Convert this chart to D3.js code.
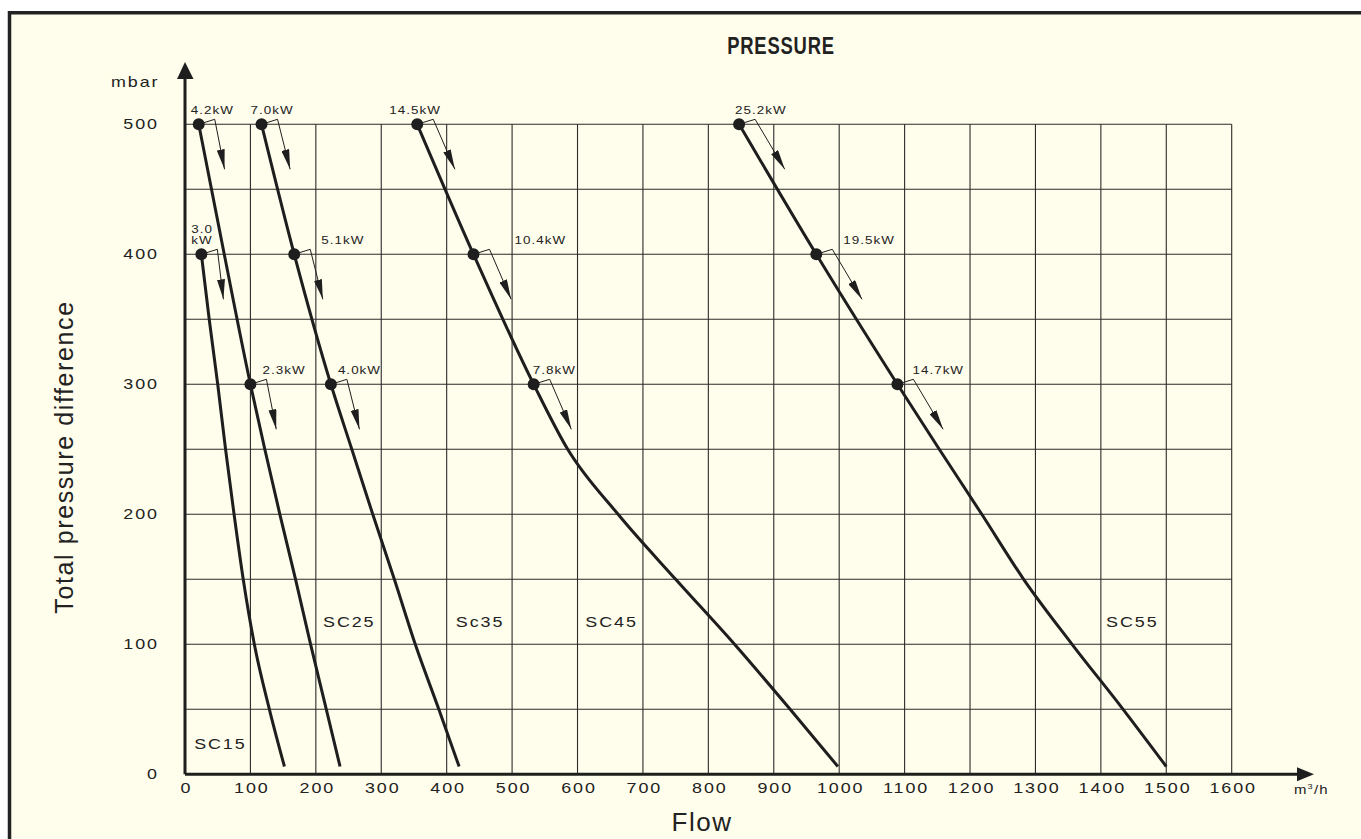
<!DOCTYPE html>
<html>
<head>
<meta charset="utf-8">
<script src="https://cdn.jsdelivr.net/npm/d3@7/dist/d3.min.js"></script>
<style>
  body { margin: 0; background: #fff; }
  svg text { font-family: "Liberation Sans", Arial, sans-serif; fill: #222; }
</style>
</head>
<body>
<script>
// blower curves: flow (m3/h) against total pressure difference (mbar)
const models = ["SC15", "SC25", "Sc35", "SC45", "SC55"];

const sc15Flow = [25, 37, 50, 62, 75, 89, 106, 129, 152];
const sc15Pres = [400, 350, 300, 250, 200, 150, 100, 50, 6];
const sc25Flow = [21, 60, 100, 122, 145, 169, 192, 216, 237];
const sc25Pres = [500, 400, 300, 250, 200, 150, 100, 50, 6];
const sc35Flow = [117, 167, 223, 255, 287, 320, 352, 388, 419];
const sc35Pres = [500, 400, 300, 250, 200, 150, 100, 50, 6];
const sc45Flow = [355, 441, 533, 585, 662, 750, 840, 925, 998];
const sc45Pres = [500, 400, 300, 250, 200, 150, 100, 50, 6];
const sc55Flow = [847, 965, 1089, 1153, 1218, 1282, 1356, 1434, 1500];
const sc55Pres = [500, 400, 300, 250, 200, 150, 100, 50, 6];

// motor power marks on each curve
const kwPres = [[400], [500, 300], [500, 400, 300], [500, 400, 300], [500, 400, 300]];
const kwText = [["3.0\nkW"], ["4.2kW", "2.3kW"], ["7.0kW", "5.1kW", "4.0kW"],
                ["14.5kW", "10.4kW", "7.8kW"], ["25.2kW", "19.5kW", "14.7kW"]];

// where the model names sit (in chart units)
const nameFlow = [14, 211, 414, 612, 1408];
const namePres = [19.5, 113.5, 113.5, 113.5, 113.5];

const xTicks = d3.range(0, 1601, 100);
const yTicks = d3.range(0, 501, 100);

// layout only: horizontal nudge of each kW tag from its dot
const tagNudge = [[-10], [-8, 12], [-11, 27, 7], [-28, 41, -1], [-4, 27, 15]];

const curves = [
  {flow: sc15Flow, pres: sc15Pres},
  {flow: sc25Flow, pres: sc25Pres},
  {flow: sc35Flow, pres: sc35Pres},
  {flow: sc45Flow, pres: sc45Pres},
  {flow: sc55Flow, pres: sc55Pres}
];

const width = 1361, height = 839;
const ink = "#1e1e1e";
const stretch = 1.28;   // the print uses an extended face

const svg = d3.select("body").append("svg")
    .attr("width", width)
    .attr("height", height);

svg.append("defs").append("marker")
    .attr("id", "head")
    .attr("viewBox", "0 0 20 8")
    .attr("refX", 20).attr("refY", 4)
    .attr("markerWidth", 20).attr("markerHeight", 8)
    .attr("markerUnits", "userSpaceOnUse")
    .attr("orient", "auto")
  .append("path")
    .attr("d", "M0,0L20,4L0,8Z")
    .attr("fill", ink);

// wide text placed at (tx, ty)
function wideText(parent, tx, ty, size, str) {
    return parent.append("text")
        .attr("transform", "translate(" + tx + "," + ty + ") scale(" + stretch + ",1)")
        .style("font-size", size + "px")
        .text(str);
}

// paper + frame
svg.append("rect")
    .attr("x", 9).attr("y", 12)
    .attr("width", width).attr("height", height)
    .attr("fill", "#fffdeb");
svg.append("path")
    .attr("d", "M9.5," + height + "V12.8H" + width)
    .attr("fill", "none")
    .attr("stroke", "#222")
    .attr("stroke-width", 3.5);

const x = d3.scaleLinear().domain([0, 1600]).range([185, 1231.7]);
const y = d3.scaleLinear().domain([0, 500]).range([774.3, 124.3]);

// grid
const grid = svg.append("g")
    .attr("stroke", "#2b2b2b")
    .attr("stroke-width", 1.1);
grid.selectAll(".gx")
    .data(x.ticks(16).filter(d => d > 0))
    .join("line")
    .attr("x1", d => x(d)).attr("x2", d => x(d))
    .attr("y1", y(500)).attr("y2", y(0));
grid.selectAll(".gy")
    .data(y.ticks(10).filter(d => d > 0))
    .join("line")
    .attr("x1", x(0)).attr("x2", x(1600))
    .attr("y1", d => y(d)).attr("y2", d => y(d));

// axes
const xAxis = svg.append("g")
    .attr("transform", "translate(0," + y(0) + ")")
    .call(d3.axisBottom(x).tickValues(xTicks).tickFormat(d3.format("d"))
        .tickSize(0).tickPadding(9));
const yAxis = svg.append("g")
    .attr("transform", "translate(" + x(0) + ",0)")
    .call(d3.axisLeft(y).tickValues(yTicks).tickFormat(d3.format("d"))
        .tickSize(0).tickPadding(0));
[xAxis, yAxis].forEach(function(a) {
    a.select(".domain").remove();
    a.selectAll("text")
        .attr("fill", "#222")
        .style("font-size", "14px")
        .style("letter-spacing", "1.5px");
});
xAxis.selectAll("text")
    .attr("x", 0)
    .attr("transform", "translate(1,0) scale(" + stretch + ",1)");
yAxis.selectAll("text")
    .attr("x", 0)
    .attr("transform", "translate(-26,0) scale(" + stretch + ",1)");

svg.append("path")
    .attr("d", "M" + x(0) + "," + y(0) + "H1298")
    .attr("stroke", ink).attr("stroke-width", 3);
svg.append("path")
    .attr("d", "M" + x(0) + "," + y(0) + "V78")
    .attr("stroke", ink).attr("stroke-width", 3);
svg.append("path")
    .attr("d", "M1297,767.3L1314," + y(0) + "L1297,781.3Z")
    .attr("fill", ink);
svg.append("path")
    .attr("d", "M177,79L" + x(0) + ",62L193.5,79Z")
    .attr("fill", ink);

wideText(svg, 111, 87, 14, "mbar").style("letter-spacing", "1.5px");

const unit = svg.append("text")
    .attr("transform", "translate(1294,794) scale(1.15,1)")
    .style("font-size", "13px")
    .style("letter-spacing", "1px");
unit.append("tspan").text("m");
unit.append("tspan").attr("dy", -5).style("font-size", "8px").text("3");
unit.append("tspan").attr("dy", 5).text("/h");

// titles
svg.append("text")
    .attr("transform", "translate(781,54) scale(0.8,1)")
    .attr("text-anchor", "middle")
    .style("font-size", "23px")
    .style("font-weight", "bold")
    .style("letter-spacing", "1px")
    .text("PRESSURE");
svg.append("text")
    .attr("x", 702).attr("y", 831)
    .attr("text-anchor", "middle")
    .style("font-size", "26px")
    .style("letter-spacing", "1.5px")
    .text("Flow");
svg.append("text")
    .attr("transform", "translate(73,457) rotate(-90)")
    .attr("text-anchor", "middle")
    .style("font-size", "25px")
    .style("letter-spacing", "1.6px")
    .text("Total pressure difference");

// curves
const line = d3.line()
    .x(d => x(d[0]))
    .y(d => y(d[1]))
    .curve(d3.curveMonotoneX);

curves.forEach(function(c, i) {
    const pts = c.flow.map((f, k) => [f, c.pres[k]]);
    svg.append("path")
        .attr("d", line(pts))
        .attr("fill", "none")
        .attr("stroke", ink)
        .attr("stroke-width", 3);

    // arrow direction follows the upper part of the curve
    const a = pts[0], b = pts[1];
    const slope = (x(b[0]) - x(a[0])) / (y(b[1]) - y(a[1]));

    kwPres[i].forEach(function(p, j) {
        const k = c.pres.indexOf(p);
        const cx = x(c.flow[k]), cy = y(p);
        const ex = cx + 16, ey = cy - 5;
        svg.append("path")
            .attr("d", "M" + cx + "," + cy + "L" + ex + "," + ey +
                       "L" + (ex + slope * 50) + "," + (ey + 50))
            .attr("fill", "none")
            .attr("stroke", ink)
            .attr("stroke-width", 1)
            .attr("marker-end", "url(#head)");
        svg.append("circle")
            .attr("cx", cx).attr("cy", cy).attr("r", 6)
            .attr("fill", ink);

        const rows = kwText[i][j].split("\n");
        rows.forEach(function(r, n) {
            wideText(svg, cx + tagNudge[i][j], cy - 10 - (rows.length - 1 - n) * 11, 10.5, r)
                .style("letter-spacing", "0.8px");
        });
    });
});

models.forEach(function(m, i) {
    wideText(svg, x(nameFlow[i]), y(namePres[i]), 14, m)
        .style("letter-spacing", "1.5px");
});
</script>
</body>
</html>
